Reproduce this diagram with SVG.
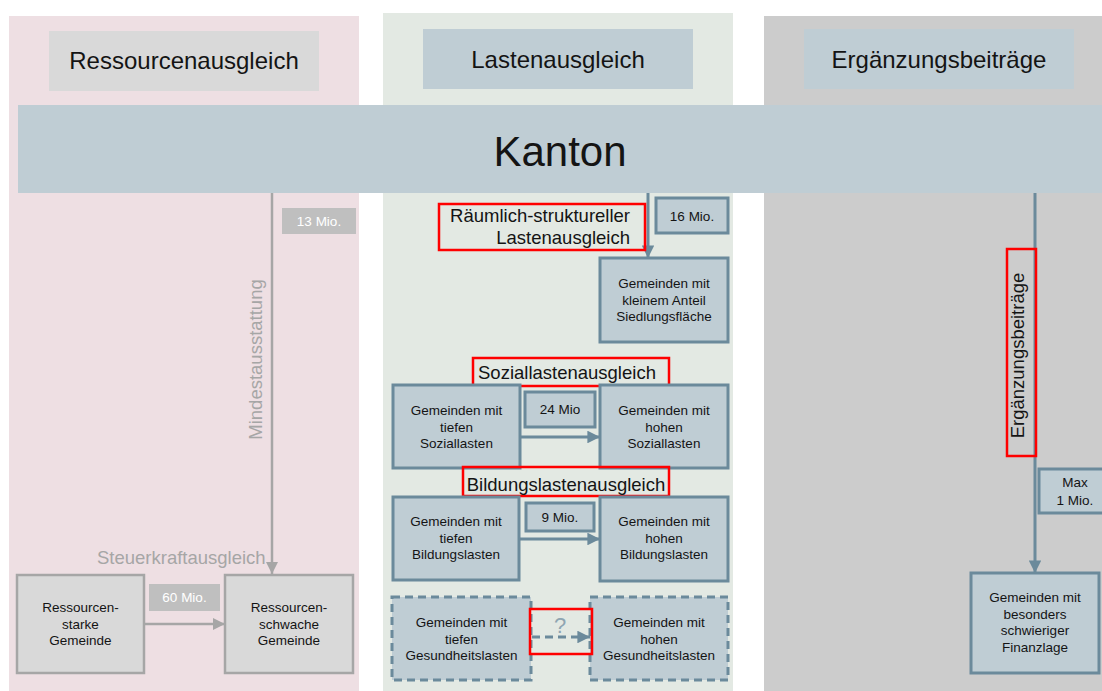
<svg xmlns="http://www.w3.org/2000/svg" width="1102" height="691" viewBox="0 0 1102 691">
<style>
text{font-family:"Liberation Sans",Arial,sans-serif;fill:#141414}
.title{font-size:24px;text-anchor:middle}
.bt{font-size:13.5px;text-anchor:middle}
.lbl{font-size:18.5px}
.sbox{fill:#bfcdd4;stroke:#6b8a9b;stroke-width:3}
.dbox{fill:#bfcdd4;stroke:#6b8a9b;stroke-width:3;stroke-dasharray:8 5}
.gbox{fill:#d9d9d9;stroke:#a6a6a6;stroke-width:2.5}
.glbl{fill:#bfbfbf}
.wt{font-size:13.5px;text-anchor:middle;fill:#ffffff}
.red{fill:none;stroke:#ff0000;stroke-width:2.5}
.sl{stroke:#6b8a9b;stroke-width:3;fill:none}
.gl{stroke:#a6a6a6;stroke-width:2.5;fill:none}
</style>
<defs>
<marker id="as" viewBox="0 0 10 10" refX="10" refY="5" markerWidth="4.2" markerHeight="4.2" markerUnits="strokeWidth" orient="auto"><path d="M0,0 L10,5 L0,10 z" fill="#6b8a9b"/></marker>
<marker id="ag" viewBox="0 0 10 10" refX="10" refY="5" markerWidth="4.8" markerHeight="4.8" markerUnits="strokeWidth" orient="auto"><path d="M0,0 L10,5 L0,10 z" fill="#a6a6a6"/></marker>
</defs>
<rect width="1102" height="691" fill="#ffffff"/>
<g id="panels">
<rect x="9" y="16" width="350" height="675" fill="#eedfe3"/>
<rect x="383" y="13" width="350" height="678" fill="#e3e9e3"/>
<rect x="764" y="16" width="338" height="675" fill="#cccccc"/>
</g>
<g id="title-ressourcen"><rect x="49" y="31" width="270" height="60" fill="#d9d9d9"/><text class="title" x="184" y="69">Ressourcenausgleich</text></g>
<g id="title-lasten"><rect x="423" y="29" width="270" height="60" fill="#bfcdd4"/><text class="title" x="558" y="68">Lastenausgleich</text></g>
<g id="title-ergaenzung"><rect x="804" y="29" width="270" height="60" fill="#bfcdd4"/><text class="title" x="939" y="68">Ergänzungsbeiträge</text></g>
<g id="kanton"><rect x="18" y="105" width="1084" height="88" fill="#bfcdd4"/><text x="560" y="166" style="font-size:42px;text-anchor:middle">Kanton</text></g>
<g id="connectors">
<line class="gl" x1="272" y1="193" x2="272" y2="574" marker-end="url(#ag)"/>
<line class="gl" x1="145" y1="624" x2="225" y2="624" marker-end="url(#ag)"/>
<line class="sl" x1="648" y1="193" x2="648" y2="258" marker-end="url(#as)"/>
<line class="sl" x1="521" y1="437" x2="600" y2="437" marker-end="url(#as)"/>
<line class="sl" x1="520" y1="539" x2="600" y2="539" marker-end="url(#as)"/>
<line class="sl" x1="532" y1="637" x2="590" y2="637" stroke-dasharray="8 5" marker-end="url(#as)"/>
<line class="sl" x1="1035" y1="193" x2="1035" y2="573" marker-end="url(#as)"/>
</g>
<g id="lbl-13"><rect class="glbl" x="282" y="208" width="74" height="26"/><text class="wt" x="319" y="226">13 Mio.</text></g>
<text x="262" y="359.5" transform="rotate(-90 262 359.5)" style="font-size:18.5px;text-anchor:middle;fill:#a6a6a6">Mindestausstattung</text>
<text x="97" y="564" style="font-size:18.5px;fill:#a6a6a6">Steuerkraftausgleich</text>
<g id="res-starke"><rect class="gbox" x="17" y="575" width="127" height="98"/><text class="bt" x="80.5" y="612">Ressourcen-</text><text class="bt" x="80.5" y="628.5">starke</text><text class="bt" x="80.5" y="645">Gemeinde</text></g>
<g id="res-schwache"><rect class="gbox" x="225" y="575" width="128" height="98"/><text class="bt" x="289" y="612">Ressourcen-</text><text class="bt" x="289" y="628.5">schwache</text><text class="bt" x="289" y="645">Gemeinde</text></g>
<g id="lbl-60"><rect class="glbl" x="149" y="584" width="71" height="27"/><text class="wt" x="184.5" y="602">60 Mio.</text></g>
<g id="raeumlich"><rect class="red" x="439" y="204" width="206" height="46"/><text class="lbl" x="630" y="222" text-anchor="end">Räumlich-struktureller</text><text class="lbl" x="630" y="244" text-anchor="end">Lastenausgleich</text></g>
<g id="lbl-16"><rect class="sbox" x="656" y="198" width="72" height="35"/><text class="bt" x="692" y="221">16 Mio.</text></g>
<g id="siedlung"><rect class="sbox" x="600" y="258" width="128" height="84"/><text class="bt" x="664" y="288">Gemeinden mit</text><text class="bt" x="664" y="304.5">kleinem Anteil</text><text class="bt" x="664" y="321">Siedlungsfläche</text></g>
<g id="sozial-label"><rect class="red" x="473" y="358" width="196" height="28"/><text class="lbl" x="478" y="379">Soziallastenausgleich</text></g>
<g id="sozial-tief"><rect class="sbox" x="393" y="385" width="127" height="83"/><text class="bt" x="456.5" y="415">Gemeinden mit</text><text class="bt" x="456.5" y="431.5">tiefen</text><text class="bt" x="456.5" y="448">Soziallasten</text></g>
<g id="sozial-hoch"><rect class="sbox" x="600" y="385" width="128" height="83"/><text class="bt" x="664" y="415">Gemeinden mit</text><text class="bt" x="664" y="431.5">hohen</text><text class="bt" x="664" y="448">Soziallasten</text></g>
<g id="lbl-24"><rect class="sbox" x="525" y="392" width="70" height="35"/><text class="bt" x="560" y="414">24 Mio</text></g>
<g id="bildung-label"><rect class="red" x="463" y="467" width="206" height="29"/><text class="lbl" x="566" y="491" text-anchor="middle">Bildungslastenausgleich</text></g>
<g id="bildung-tief"><rect class="sbox" x="393" y="497" width="126" height="83"/><text class="bt" x="456" y="526">Gemeinden mit</text><text class="bt" x="456" y="542.5">tiefen</text><text class="bt" x="456" y="559">Bildungslasten</text></g>
<g id="bildung-hoch"><rect class="sbox" x="600" y="497" width="128" height="84"/><text class="bt" x="664" y="526">Gemeinden mit</text><text class="bt" x="664" y="542.5">hohen</text><text class="bt" x="664" y="559">Bildungslasten</text></g>
<g id="lbl-9"><rect class="sbox" x="526" y="503" width="68" height="28"/><text class="bt" x="560" y="522">9 Mio.</text></g>
<g id="gesund-tief"><rect class="dbox" x="392" y="597" width="139" height="83"/><text class="bt" x="461.5" y="627">Gemeinden mit</text><text class="bt" x="461.5" y="643.5">tiefen</text><text class="bt" x="461.5" y="660">Gesundheitslasten</text></g>
<g id="gesund-hoch"><rect class="dbox" x="590" y="597" width="138" height="83"/><text class="bt" x="659" y="627">Gemeinden mit</text><text class="bt" x="659" y="643.5">hohen</text><text class="bt" x="659" y="660">Gesundheitslasten</text></g>
<g id="frage"><text x="560" y="633" style="font-size:22px;text-anchor:middle;fill:#8fa5b2">?</text><rect class="red" x="530" y="609" width="62" height="45"/></g>
<g id="erg-label"><rect class="red" x="1007" y="249" width="29" height="207"/><text x="1024" y="355.5" transform="rotate(-90 1024 355.5)" style="font-size:18.5px;text-anchor:middle">Ergänzungsbeiträge</text></g>
<g id="lbl-max"><rect class="sbox" x="1039" y="469" width="70" height="44"/><text class="bt" x="1075" y="487">Max</text><text class="bt" x="1075" y="505">1 Mio.</text></g>
<g id="finanz"><rect class="sbox" x="971" y="573" width="128" height="100"/><text class="bt" x="1035" y="602">Gemeinden mit</text><text class="bt" x="1035" y="618.5">besonders</text><text class="bt" x="1035" y="635">schwieriger</text><text class="bt" x="1035" y="652">Finanzlage</text></g>
</svg>
